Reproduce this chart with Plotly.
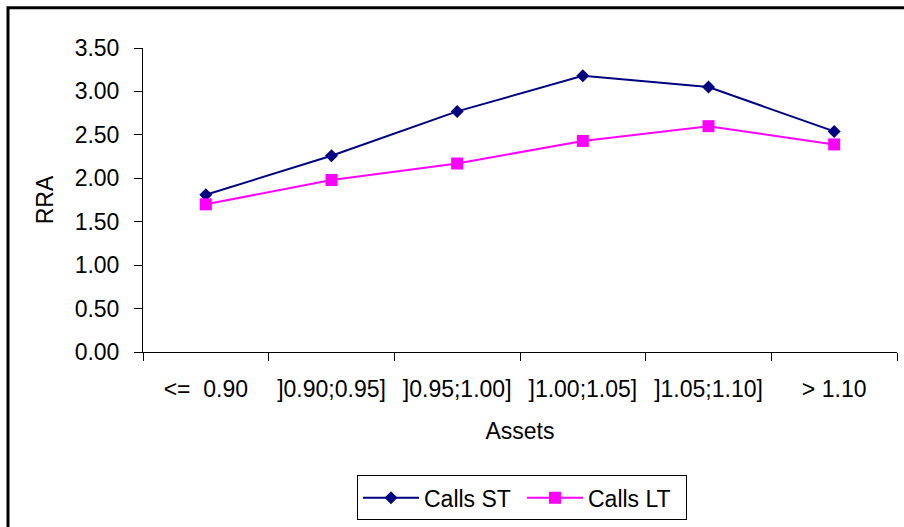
import plotly.graph_objects as go

# Asset moneyness buckets and relative risk aversion per series
categories = ["<=  0.90", "]0.90;0.95]", "]0.95;1.00]", "]1.00;1.05]", "]1.05;1.10]", "> 1.10"]
calls_st = [1.81, 2.26, 2.77, 3.18, 3.05, 2.54]
calls_lt = [1.70, 1.98, 2.17, 2.43, 2.60, 2.39]
y_ticks = [0.0, 0.5, 1.0, 1.5, 2.0, 2.5, 3.0, 3.5]

W, H = 904, 527
L, R, T, B = 143, 7, 48, 173
FONT = "Liberation Sans, Arial, sans-serif"
FS = 23

fig = go.Figure()
fig.add_trace(go.Scatter(
    x=categories, y=calls_st, name="Calls ST", mode="lines+markers",
    line=dict(color="#000080", width=2),
    marker=dict(symbol="diamond", size=10, color="#000080"),
))
fig.add_trace(go.Scatter(
    x=categories, y=calls_lt, name="Calls LT", mode="lines+markers",
    line=dict(color="#FF00FF", width=2),
    marker=dict(symbol="square", size=12, color="#FF00FF"),
))

pw = W - L - R
ph = H - T - B


def px_x(p):
    return (p - L) / pw


def px_y(p):
    return (H - B - p) / ph


# Chart-area frame (extends beyond the right and bottom edges)
fig.add_shape(type="rect", xref="paper", yref="paper",
              x0=px_x(8), x1=px_x(W + 10), y0=px_y(H + 10), y1=px_y(7.5),
              line=dict(color="black", width=3), fillcolor="rgba(0,0,0,0)",
              layer="above")

fig.update_layout(
    width=W, height=H,
    margin=dict(l=L, r=R, t=T, b=B, pad=0),
    paper_bgcolor="white", plot_bgcolor="white",
    font=dict(family=FONT, size=FS, color="black"),
    showlegend=True,
    legend=dict(
        orientation="h", x=px_x(357), xanchor="left",
        y=px_y(478), yanchor="top",
        bordercolor="black", borderwidth=1,
        font=dict(family=FONT, size=FS, color="black"),
        itemwidth=56, entrywidth=93, tracegroupgap=0,
    ),
    xaxis=dict(
        type="category", range=[-0.5, 5.5],
        showline=True, linecolor="black", linewidth=1,
        ticks="outside", ticklen=8, tickcolor="black", tickwidth=1,
        tickson="boundaries", showgrid=False, zeroline=False,
        ticklabelstandoff=16,
        title=dict(text="Assets", standoff=22, font=dict(size=FS)),
    ),
    yaxis=dict(
        range=[0, 3.5], tickvals=y_ticks, tickformat=".2f",
        showline=True, linecolor="black", linewidth=1,
        ticks="outside", ticklen=8, tickcolor="black", tickwidth=1,
        showgrid=False, zeroline=False,
        ticklabelstandoff=10,
        title=dict(text="RRA", standoff=14, font=dict(size=FS)),
    ),
)

fig.write_html("out.html")
